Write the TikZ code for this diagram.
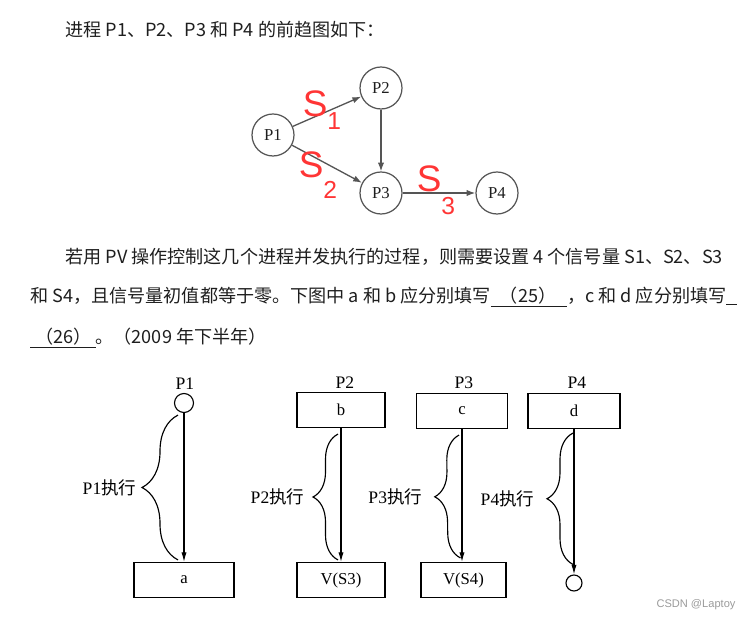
\documentclass[tikz,border=0pt]{standalone}
\usepackage{fontspec}
\setmainfont{Liberation Serif}
\newfontfamily\cjk{Noto Sans CJK SC}
\newfontfamily\hand{Liberation Sans}
\usetikzlibrary{arrows.meta, positioning, calc, decorations.pathreplacing}
\definecolor{txtgray}{HTML}{1E1E1E}
\definecolor{linegray}{HTML}{555555}
\definecolor{penred}{HTML}{FF3535}
\definecolor{markgray}{HTML}{9A9A9A}

\begin{document}
\begin{tikzpicture}[
  x=0.02cm, y=-0.02cm,
  every node/.style={inner sep=0pt},
  para/.style={anchor=west, font=\cjk\fontsize{10.3}{12}\selectfont, text=txtgray},
  proc/.style={circle, draw=linegray, line width=0.7pt, minimum size=0.84cm, font=\fontsize{9.5}{11}\selectfont, text=txtgray},
  garrow/.style={-{Latex[length=5pt, width=3.6pt]}, line width=0.75pt, draw=linegray},
  pen/.style={text=penred, font=\hand\fontsize{21}{21}\selectfont},
  opbox/.style={rectangle, draw, line width=0.65pt, minimum width=#1*0.02cm, minimum height=0.7cm, font=\fontsize{9.5}{11}\selectfont},
  ptitle/.style={font=\fontsize{10}{12}\selectfont},
  endc/.style={circle, draw, line width=0.65pt, minimum size=#1*0.02cm},
  varrow/.style={-{Latex[length=5.5pt, width=3pt]}, line width=0.65pt},
  brc/.style={decorate, decoration={brace, amplitude=#1}, line width=0.65pt},
  exlbl/.style={font=\fontsize{10}{12}\selectfont},
]
\useasboundingbox (0,0) rectangle (750,621);

% question text
\node[para] (q0) at (65,30) {进程 P1、P2、P3 和 P4 的前趋图如下：};
\node[para] (q1) at (65,257) {若用 PV 操作控制这几个进程并发执行的过程，则需要设置 4 个信号量 S1、S2、S3};
\node[para] (q2) at (30,297) {和 S4，且信号量初值都等于零。下图中 a 和 b 应分别填写\underline{\hspace{0.5em}（25）\hspace{0.6em}}，c 和 d 应分别填写\underline{\hspace{0.6em}}};
\node[para] (q3) at (30,338) {\underline{\hspace{0.3em}（26）\hspace{0.2em}}。（2009 年下半年）};

% precedence graph
\node[proc] (p1) at (273,135) {P1};
\node[proc] (p2) at (381,88) {P2};
\node[proc] (p3) at (381,193) {P3};
\node[proc] (p4) at (497,193) {P4};

\draw[garrow] (p1) -- (p2);
\draw[garrow] (p1) -- (p3);
\draw[garrow] (p2) -- (p3);
\draw[garrow] (p3) -- (p4);

% red pen notes
\node[pen] (n1) at (322,110) {S\raisebox{-7pt}{\fontsize{14}{14}\selectfont 1}};
\node[pen] (n2) at (318,175) {S\raisebox{-12pt}{\fontsize{14}{14}\selectfont 2}};
\node[pen] (n3) at (436,190) {S\raisebox{-13pt}{\fontsize{14}{14}\selectfont 3}};

% P1
\node[ptitle] (t1) at (185,384) {P1};
\node[endc=19] (s1) at (184,403) {};
\node[opbox=100] (a) at (184,580) {a};
\draw[varrow] (s1) -- (a);
\draw[brc=0.72cm] ($(a.north)+(-6,-2)$) -- node[midway, left=0.82cm, exlbl] {P1{\cjk 执行}} ($(s1.south)+(-6,2)$);

% P2
\node[ptitle] (t2) at (345,383) {P2};
\node[opbox=88] (b) at (341,410) {b};
\node[opbox=88] (vs3) at (341,580) {V(S3)};
\draw[varrow] (b) -- (vs3);
\draw[brc=0.5cm] ($(vs3.north)+(-3,-2)$) -- node[midway, left=0.66cm, exlbl] {P2{\cjk 执行}} ($(b.south)+(-3,6)$);

% P3
\node[ptitle] (t3) at (464,383) {P3};
\node[opbox=91] (c) at (462,411) {c};
\node[opbox=85] (vs4) at (463.5,580) {V(S4)};
\draw[varrow] (c.south) -- (c.south |- vs4.north);
\draw[brc=0.5cm] ($(vs4.north)+(-3,-4)$) -- node[midway, left=0.74cm, exlbl] {P3{\cjk 执行}} ($(c.south)+(-3,6)$);

% P4
\node[ptitle] (t4) at (577,383) {P4};
\node[opbox=92] (d) at (574,411) {d};
\node[endc=16] (e4) at (574,583) {};
\draw[varrow] (d) -- (e4);
\draw[brc=0.52cm] ($(e4.north)+(-1,-10)$) -- node[midway, left=0.76cm, exlbl] {P4{\cjk 执行}} ($(d.south)+(-1,4)$);

\node[text=markgray, font=\hand\fontsize{6.3}{8}\selectfont] (wm) at (696,605) {CSDN @Laptoy};
\end{tikzpicture}
\end{document}
